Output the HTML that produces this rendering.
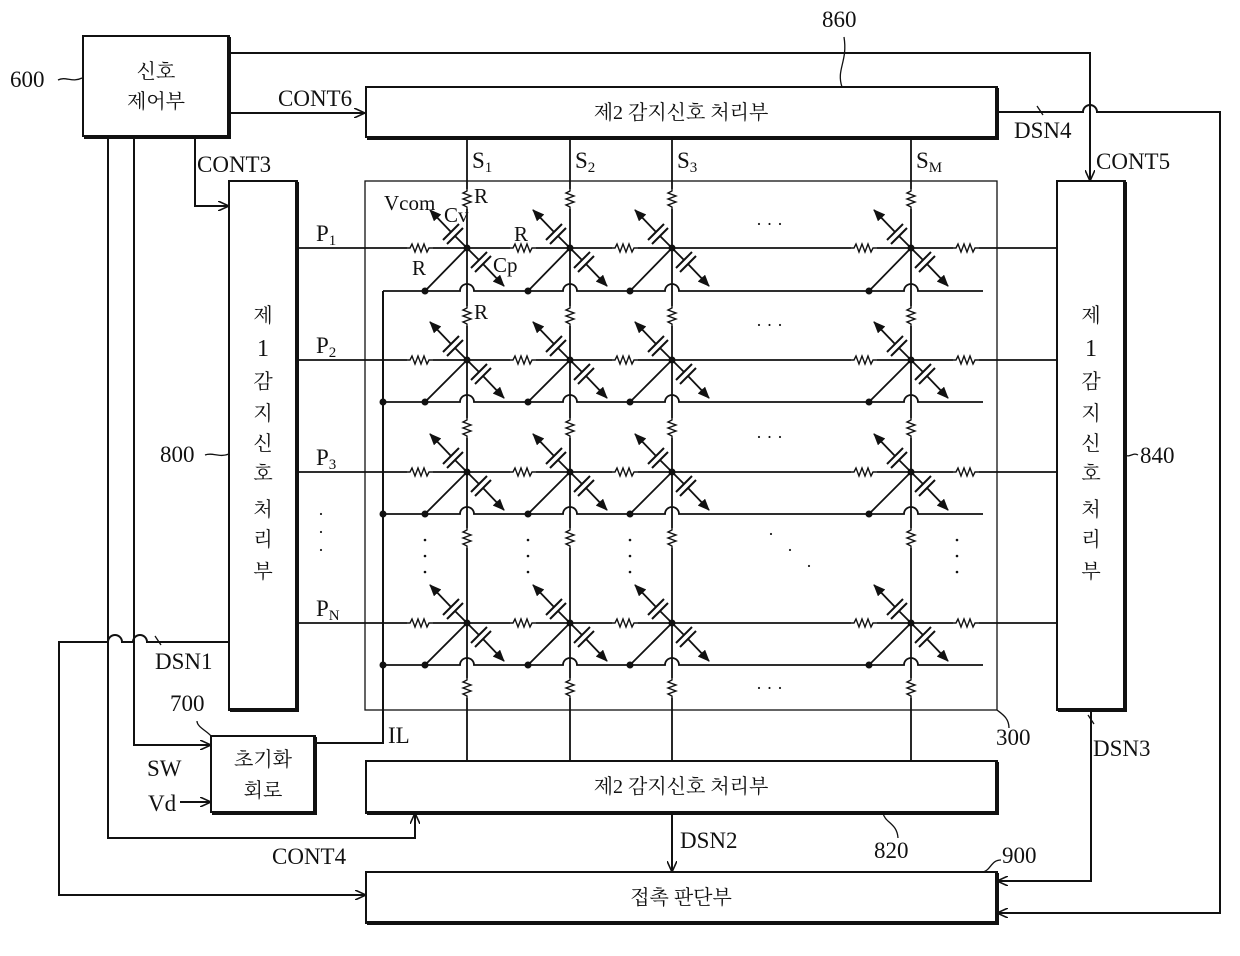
<!DOCTYPE html>
<html><head><meta charset="utf-8"><style>
html,body{margin:0;padding:0;background:#fff;width:1240px;height:956px;overflow:hidden}
svg text{font-family:"Liberation Serif","Noto Serif CJK KR",serif;fill:#111}
.k{font-family:"Liberation Sans","Noto Sans CJK KR",sans-serif;font-size:20px}
</style></head><body>
<svg id="s" width="1240" height="956" viewBox="0 0 1240 956" xmlns="http://www.w3.org/2000/svg" stroke="#111" fill="none" stroke-width="2">
<defs>
<marker id="oa" markerWidth="12" markerHeight="10" refX="11" refY="5" orient="auto" markerUnits="userSpaceOnUse"><path d="M0,0 L11,5 L0,10" fill="none" stroke="#111" stroke-width="1.6"/></marker>
<marker id="fa" markerWidth="12" markerHeight="10" refX="11" refY="5" orient="auto" markerUnits="userSpaceOnUse"><path d="M0,0 L12,5 L0,10 Z" fill="#111" stroke="none"/></marker>
</defs>
<rect x="83" y="36" width="146" height="100"/><path d="M229,37V137H84" stroke-width="4"/>
<rect x="366" y="87" width="631" height="50"/><path d="M997,88V138H367" stroke-width="4"/>
<rect x="229" y="181" width="68" height="529"/><path d="M297,182V710H230" stroke-width="4"/>
<rect x="365" y="181" width="632" height="529" stroke-width="1.3"/>
<rect x="1057" y="181" width="68" height="529"/><path d="M1125,182V710H1058" stroke-width="4"/>
<rect x="211" y="736" width="104" height="76"/><path d="M315,737V813H212" stroke-width="4"/>
<rect x="366" y="761" width="631" height="52"/><path d="M997,762V813H367" stroke-width="4"/>
<rect x="366" y="872" width="631" height="51"/><path d="M997,873V923H367" stroke-width="4"/>
<path d="M229,53H1090V181" marker-end="url(#oa)"/>
<path d="M229,113H365" marker-end="url(#oa)"/>
<path d="M195,137V206H229" marker-end="url(#oa)"/>
<path d="M108,137V838H415V813" marker-end="url(#oa)"/>
<path d="M134,137V745H211" marker-end="url(#oa)"/>
<path d="M180,802H211" marker-end="url(#oa)"/>
<path d="M229,642H147a7,7 0 0 0 -14,0H122a7,7 0 0 0 -14,0H59V895H366" marker-end="url(#oa)"/>
<path d="M997,112H1083a7,7 0 0 1 14,0H1220V913H997" marker-end="url(#oa)"/>
<path d="M1091,710V881H997" marker-end="url(#oa)"/>
<path d="M672,813V872" marker-end="url(#oa)"/>
<path d="M315,743H383V291"/>
<path d="M155,636l6,9M1037,106l6,9M1088,715l6,9" stroke-width="1.3"/>
<path d="M58,80c8,-4 14,3 24,-2" stroke-width="1.3"/>
<path d="M842,87c-6,-18 6,-25 2,-50" stroke-width="1.3"/>
<path d="M205,455c8,-3 14,3 24,-1" stroke-width="1.3"/>
<path d="M1125,455c5,3 8,-3 13,0" stroke-width="1.3"/>
<path d="M997,710c5,4 12,8 12,18" stroke-width="1.3"/>
<path d="M883,813c2,10 14,10 15,25" stroke-width="1.3"/>
<path d="M983,872c8,-2 8,-12 18,-12" stroke-width="1.3"/>
<path d="M197,721c0,6 10,10 14,15" stroke-width="1.3"/>
<g id="g" stroke-width="1.8"></g>
<g stroke="none" font-size="23">
<text x="10" y="87">600</text>
<text x="822" y="27">860</text>
<text x="160" y="462">800</text>
<text x="1140" y="463">840</text>
<text x="996" y="745">300</text>
<text x="874" y="858">820</text>
<text x="1002" y="863">900</text>
<text x="170" y="711">700</text>
<text x="278" y="106">CONT6</text>
<text x="197" y="172">CONT3</text>
<text x="1096" y="169">CONT5</text>
<text x="1014" y="138">DSN4</text>
<text x="155" y="669">DSN1</text>
<text x="1093" y="756">DSN3</text>
<text x="680" y="848">DSN2</text>
<text x="272" y="864">CONT4</text>
<text x="147" y="776">SW</text>
<text x="148" y="811">Vd</text>
<text x="388" y="743">IL</text>
<text x="472" y="168">S<tspan font-size="15" dy="4">1</tspan></text>
<text x="575" y="168">S<tspan font-size="15" dy="4">2</tspan></text>
<text x="677" y="168">S<tspan font-size="15" dy="4">3</tspan></text>
<text x="916" y="168">S<tspan font-size="15" dy="4">M</tspan></text>
<text x="316" y="241">P<tspan font-size="15" dy="4">1</tspan></text>
<text x="316" y="353">P<tspan font-size="15" dy="4">2</tspan></text>
<text x="316" y="465">P<tspan font-size="15" dy="4">3</tspan></text>
<text x="316" y="616">P<tspan font-size="15" dy="4">N</tspan></text>
<text x="318" y="520" font-size="18">·</text><text x="318" y="538" font-size="18">·</text><text x="318" y="556" font-size="18">·</text>
<text x="384" y="210" font-size="21">Vcom</text>
<text x="444" y="222" font-size="21">Cv</text>
<text x="474" y="203" font-size="21">R</text>
<text x="412" y="275" font-size="21">R</text>
<text x="514" y="241" font-size="21">R</text>
<text x="493" y="272" font-size="21">Cp</text>
<text x="474" y="319" font-size="21">R</text>
<text x="756" y="230" font-size="18">· · ·</text>
<text x="756" y="331" font-size="18">· · ·</text>
<text x="756" y="443" font-size="18">· · ·</text>
<text x="756" y="694" font-size="18">· · ·</text>
<text x="768" y="540" font-size="18">·</text><text x="787" y="556" font-size="18">·</text><text x="806" y="572" font-size="18">·</text>
</g>
<g stroke="none" class="k" text-anchor="middle">
<text x="156" y="78">신호</text>
<text x="156" y="108">제어부</text>
<text x="681" y="119">제2 감지신호 처리부</text>
<text x="681" y="793">제2 감지신호 처리부</text>
<text x="681" y="904">접촉 판단부</text>
<text x="263" y="766">초기화</text>
<text x="263" y="797">회로</text>
</g>
<g stroke="none" class="k" text-anchor="middle" id="vt"></g>
</svg>
<script>
var NS="http://www.w3.org/2000/svg",g=document.getElementById('g');
function el(t,a,p){var e=document.createElementNS(NS,t);for(var k in a)e.setAttribute(k,a[k]);(p||g).appendChild(e);return e;}
function P(d,extra){var a={d:d};for(var k in extra)a[k]=extra[k];return el('path',a);}
var cols=[467,570,672,911],rows=[248,360,472,623],low=[291,402,514,665];
var vt=document.getElementById('vt');
[263,1091].forEach(function(cx){var chars=['제','1','감','지','신','호','처','리','부'],ys=[322,356,388,420,450,480,516,546,578];
chars.forEach(function(ch,i){var t=el('text',{x:cx,y:ys[i]},vt);t.textContent=ch;if(ch=='1'){t.setAttribute('style','font-family:Liberation Serif,serif;font-size:24px');}});});
function hres(cx,y){el('rect',{x:cx-13,y:y-4,width:26,height:8,fill:'#fff',stroke:'none'});P('M'+(cx-13)+','+y+'l3,0 2,-4 3,8 3,-8 3,8 3,-8 3,8 2,-4 4,0',{'stroke-width':1.4});}
function vres(x,cy){el('rect',{x:x-4,y:cy-10,width:8,height:20,fill:'#fff',stroke:'none'});P('M'+x+','+(cy-10)+'l0,2 -4,2 8,3 -8,3 8,3 -8,3 4,2 0,2',{'stroke-width':1.4});}
function dot(x,y){el('circle',{cx:x,cy:y,r:3.5,fill:'#111',stroke:'none'});}
cols.forEach(function(x){P('M'+x+',137V761');});
rows.forEach(function(y){P('M297,'+y+'H1057');});
low.forEach(function(y,i){
 var d='M383,'+y;cols.forEach(function(x){d+='H'+(x-7)+'a7,7 0 0 1 14,0';});d+='H983';
 P(d);if(i>0)dot(383,y);
});
function cap(x,y,s){
 var a=x+s*12,b=y+s*12,c=x+s*16,d=y+s*16;
 P('M'+x+','+y+'L'+a+','+b);
 P('M'+(a-8)+','+(b+8)+'L'+(a+8)+','+(b-8),{'stroke-width':2});
 P('M'+(c-8)+','+(d+8)+'L'+(c+8)+','+(d-8),{'stroke-width':2});
 P('M'+c+','+d+'L'+(x+s*37)+','+(y+s*38),{'marker-end':'url(#fa)'});
}
rows.forEach(function(y,i){
 cols.forEach(function(x){
  hres(x-47,y);
  P('M'+x+','+y+'L'+(x-42)+','+(low[i]));dot(x-42,low[i]);
  cap(x,y,-1);cap(x,y,1);dot(x,y);
 });
 hres(966,y);
});
cols.forEach(function(x){vres(x,199);vres(x,316);vres(x,428);vres(x,538);vres(x,688);});
[425,528,630,957].forEach(function(x){[540,556,572].forEach(function(y){el('circle',{cx:x,cy:y,r:1.3,fill:'#111',stroke:'none'});});});
</script>
</body></html>
